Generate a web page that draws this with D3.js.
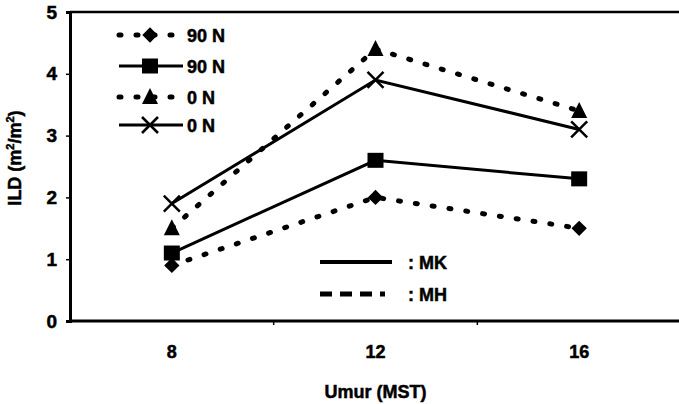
<!DOCTYPE html>
<html>
<head>
<meta charset="utf-8">
<script src="https://cdnjs.cloudflare.com/ajax/libs/d3/7.8.5/d3.min.js"></script>
<style>
  body { margin: 0; background: #fff; }
  text { font-family: "Liberation Sans", Arial, sans-serif; font-weight: bold; fill: #000; stroke: #000; stroke-width: 0.5px; }
</style>
</head>
<body>
<div id="chart"></div>
<script>
var ages = ["8", "12", "16"];
var yTicks = [0, 1, 2, 3, 4, 5];
var mh90 = [0.9, 2.0, 1.5];   // diamond, dashed
var mk90 = [1.1, 2.6, 2.3];   // square, solid
var mh0 = [1.5, 4.4, 3.4];    // triangle, dashed
var mk0 = [1.9, 3.9, 3.1];    // cross, solid
var seriesNames = ["90 N", "90 N", "0 N", "0 N"];
var methodNames = [": MK", ": MH"];

var width = 679, height = 404;
var margin = {top: 12, right: -2, bottom: 83, left: 70};

var svg = d3.select('#chart').append('svg')
  .attr('width', width)
  .attr('height', height);

var x = d3.scaleBand().domain(ages).range([margin.left, width - margin.right]);
var y = d3.scaleLinear().domain([0, 5]).range([height - margin.bottom, margin.top]);

var series = [
  {name: seriesNames[0], values: mh90, marker: 'diamond', dashed: true},
  {name: seriesNames[1], values: mk90, marker: 'square', dashed: false},
  {name: seriesNames[2], values: mh0, marker: 'triangle', dashed: true},
  {name: seriesNames[3], values: mk0, marker: 'cross', dashed: false}
];

function styleLine(sel, dashed) {
  sel.attr('fill', 'none').attr('stroke', '#000');
  if (dashed) {
    sel.attr('stroke-width', 5).attr('stroke-dasharray', '2,15').attr('stroke-linecap', 'round');
  } else {
    sel.attr('stroke-width', 3);
  }
}

function drawMarker(g, type, cx, cy) {
  if (type === 'diamond') {
    g.append('path').attr('d', d3.symbol(d3.symbolDiamond2, 150)()).attr('transform', 'translate(' + cx + ',' + cy + ')').attr('fill', '#000');
  } else if (type === 'square') {
    g.append('rect').attr('x', cx - 8).attr('y', cy - 7.5).attr('width', 16).attr('height', 15).attr('fill', '#000');
  } else if (type === 'triangle') {
    g.append('path').attr('d', 'M' + cx + ',' + (cy - 9) + 'L' + (cx + 8) + ',' + (cy + 7) + 'L' + (cx - 8) + ',' + (cy + 7) + 'Z').attr('fill', '#000');
  } else {
    g.append('path').attr('d', 'M' + (cx - 8) + ',' + (cy - 8) + 'L' + (cx + 8) + ',' + (cy + 8) + 'M' + (cx + 8) + ',' + (cy - 8) + 'L' + (cx - 8) + ',' + (cy + 8))
      .attr('stroke', '#000').attr('stroke-width', 2.5).attr('fill', 'none');
  }
}

// frame top line
svg.append('line')
  .attr('x1', margin.left).attr('x2', width)
  .attr('y1', y(5)).attr('y2', y(5))
  .attr('stroke', '#000').attr('stroke-width', 2.5);

// y axis
var yAxis = svg.append('g')
  .attr('transform', 'translate(' + margin.left + ',0)')
  .call(d3.axisLeft(y).tickValues(yTicks).tickSize(4).tickPadding(9).tickFormat(d3.format('d')));
yAxis.select('.domain').attr('stroke-width', 3);
yAxis.selectAll('.tick line').attr('stroke-width', 1.5);
yAxis.selectAll('.tick text').style('font-size', '19px');

// x axis
var xAxis = svg.append('g')
  .attr('transform', 'translate(0,' + y(0) + ')')
  .call(d3.axisBottom(x).tickSize(0).tickSizeOuter(0).tickPadding(24));
xAxis.select('.domain').attr('stroke-width', 3).attr('d', 'M' + margin.left + ',0H' + width);
xAxis.selectAll('.tick text').style('font-size', '18px');
// ticks between categories
xAxis.selectAll('.sep')
  .data(ages.slice(1)).enter().append('line')
  .attr('x1', function(d) { return x(d); }).attr('x2', function(d) { return x(d); })
  .attr('y1', 0).attr('y2', 4)
  .attr('stroke', '#000').attr('stroke-width', 1.5);

// axis titles
svg.append('text')
  .attr('x', x('12') + x.bandwidth() / 2).attr('y', 398)
  .attr('text-anchor', 'middle')
  .style('font-size', '18px')
  .text('Umur (MST)');

var yt = svg.append('text')
  .attr('transform', 'translate(21,' + 158 + ') rotate(-90)')
  .attr('text-anchor', 'middle')
  .style('font-size', '18px');
yt.append('tspan').text('ILD (m');
yt.append('tspan').attr('dy', -7).style('font-size', '11px').text('2');
yt.append('tspan').attr('dy', 7).text('/m');
yt.append('tspan').attr('dy', -7).style('font-size', '11px').text('2');
yt.append('tspan').attr('dy', 7).text(')');

// lines and markers
var line = d3.line()
  .x(function(d, i) { return x(ages[i]) + x.bandwidth() / 2; })
  .y(function(d) { return y(d); });

series.forEach(function(s) {
  var g = svg.append('g');
  g.append('path').datum(s.values).attr('d', line).call(styleLine, s.dashed);
  s.values.forEach(function(v, i) {
    drawMarker(g, s.marker, x(ages[i]) + x.bandwidth() / 2, y(v));
  });
});

// legend 1
var lg = svg.append('g');
var legY = [35, 66, 97, 125];
series.forEach(function(s, i) {
  var ly = legY[i];
  lg.append('line').attr('x1', 119).attr('x2', 183).attr('y1', ly).attr('y2', ly).call(styleLine, s.dashed);
  drawMarker(lg, s.marker, 150, ly);
  lg.append('text').attr('x', 187).attr('y', ly + 7).style('font-size', '18px').text(s.name);
});

// legend 2
var lg2 = svg.append('g');
[false, true].forEach(function(dashed, i) {
  var ly = 262 + i * 32;
  lg2.append('line').attr('x1', 320).attr('x2', dashed ? 385 : 392).attr('y1', ly).attr('y2', ly)
    .call(styleLine, dashed)
    .attr('stroke-dasharray', dashed ? '12,8' : null)
    .attr('stroke-linecap', dashed ? 'butt' : null)
    .attr('stroke-width', dashed ? 5 : 4);
  lg2.append('text').attr('x', 408).attr('y', ly + 7).style('font-size', '18px').text(methodNames[i]);
});
</script>
</body>
</html>
